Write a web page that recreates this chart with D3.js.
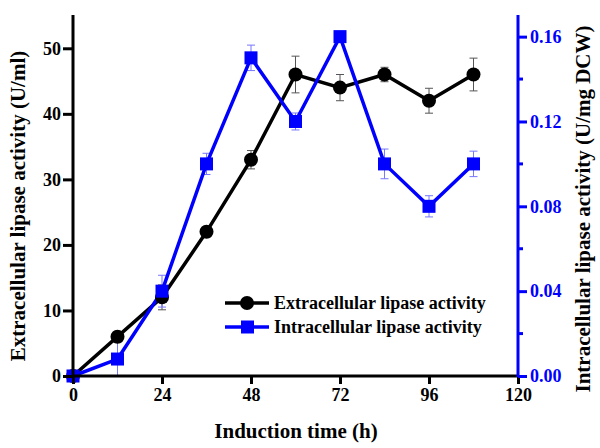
<!DOCTYPE html>
<html><head><meta charset="utf-8">
<script src="https://cdn.jsdelivr.net/npm/d3@7"></script>
<style>body{margin:0;background:#fff}text{font-family:"Liberation Serif","Times New Roman",serif;font-weight:bold}</style>
</head><body><svg id="c" width="600" height="448"></svg>
<script>
const hours = [0, 12, 24, 36, 48, 60, 72, 84, 96, 108];
const extracellular = [0, 6, 12, 22, 33, 46, 44, 46, 42, 46];
const extracellularErr = [0, 0.8, 1.9, 0.8, 1.4, 2.8, 2, 1.1, 1.9, 2.5];
const intracellular = [0, 0.008, 0.04, 0.10, 0.15, 0.12, 0.16, 0.10, 0.08, 0.10];
const intracellularErr = [0, 0.009, 0.0075, 0.005, 0.006, 0.004, 0.001, 0.007, 0.005, 0.006];
const xTicks = [0, 24, 48, 72, 96, 120];
const yLeftTicks = [0, 10, 20, 30, 40, 50];
const yRightTicks = [0, 0.04, 0.08, 0.12, 0.16];
const yRightMinor = [0.02, 0.06, 0.10, 0.14];
const seriesNames = ["Extracellular lipase activity", "Intracellular lipase activity"];

const svg = d3.select("#c");
const L = 73, R = 518, T = 15, B = 376;
const x = d3.scaleLinear().domain([0, 120]).range([L, R]);
const yL = d3.scaleLinear().domain([0, 55.08]).range([B, T]);
const yR = d3.scaleLinear().domain([0, 0.1702]).range([B, T]);
const blue = "#0000ff";

function errBars(vals, errs, y, color) {
  const g = svg.append("g").attr("stroke", color).attr("stroke-width", 1).attr("fill", "none");
  hours.forEach((h, i) => {
    if (!errs[i]) return;
    const cx = x(h), y1 = y(Math.max(0, vals[i] - errs[i])), y2 = y(vals[i] + errs[i]);
    g.append("line").attr("x1", cx).attr("x2", cx).attr("y1", y1).attr("y2", y2);
    g.append("line").attr("x1", cx - 4).attr("x2", cx + 4).attr("y1", y2).attr("y2", y2);
    g.append("line").attr("x1", cx - 4).attr("x2", cx + 4).attr("y1", y1).attr("y2", y1);
  });
}
errBars(extracellular, extracellularErr, yL, "#555");
errBars(intracellular, intracellularErr, yR, "#7777ff");

const lineE = d3.line().x((d, i) => x(hours[i])).y(d => yL(d));
const lineI = d3.line().x((d, i) => x(hours[i])).y(d => yR(d));
svg.append("path").attr("d", lineE(extracellular)).attr("fill", "none").attr("stroke", "#000").attr("stroke-width", 3.5);
svg.append("path").attr("d", lineI(intracellular)).attr("fill", "none").attr("stroke", blue).attr("stroke-width", 3.5);

svg.append("g").selectAll("circle").data(extracellular).join("circle")
  .attr("cx", (d, i) => x(hours[i])).attr("cy", d => yL(d)).attr("r", 7).attr("fill", "#000");
svg.append("g").selectAll("rect").data(intracellular).join("rect")
  .attr("x", (d, i) => x(hours[i]) - 6.5).attr("y", d => yR(d) - 6.5).attr("width", 13).attr("height", 13).attr("fill", blue);

const fs = "18px";
const gx = svg.append("g").attr("transform", `translate(0,${B})`)
  .call(d3.axisBottom(x).tickValues(xTicks).tickSize(8).tickPadding(4));
gx.select(".domain").attr("stroke-width", 3).attr("d", `M${L - 1},0H${R}`);
gx.selectAll(".tick line").attr("stroke-width", 3);
gx.selectAll("text").style("font-size", fs).attr("fill", "#000");

const gl = svg.append("g").attr("transform", `translate(${L},0)`)
  .call(d3.axisLeft(yL).tickValues(yLeftTicks).tickSize(10).tickPadding(2));
gl.select(".domain").attr("stroke-width", 3).attr("d", `M0,${B + 1}V${T}`);
gl.selectAll(".tick line").attr("stroke-width", 3);
gl.selectAll("text").style("font-size", fs).attr("fill", "#000");

const gr = svg.append("g").attr("transform", `translate(${R},0)`)
  .call(d3.axisRight(yR).tickValues(yRightTicks).tickFormat(d3.format(".2f")).tickSize(9).tickPadding(3));
gr.select(".domain").attr("stroke", blue).attr("stroke-width", 3).attr("d", `M0,${B + 1}V${T}`);
gr.selectAll(".tick line").attr("stroke", blue).attr("stroke-width", 3);
gr.selectAll("text").style("font-size", fs).attr("fill", blue);
gr.append("g").selectAll("line").data(yRightMinor).join("line")
  .attr("x1", 0).attr("x2", 5).attr("y1", d => yR(d)).attr("y2", d => yR(d))
  .attr("stroke", blue).attr("stroke-width", 3);

svg.append("text").attr("x", 296).attr("y", 438).attr("text-anchor", "middle")
  .style("font-size", "21px").text("Induction time (h)");
svg.append("text").attr("transform", "translate(25,206) rotate(-90)").attr("text-anchor", "middle")
  .style("font-size", "21px").text("Extracellular lipase activity (U/ml)");
svg.append("text").attr("transform", "translate(590,209) rotate(-90)").attr("text-anchor", "middle")
  .style("font-size", "21px").text("Intracellular lipase activity (U/mg DCW)");

const leg = svg.append("g");
[0, 1].forEach(i => {
  const yy = 303 + i * 24;
  const col = i ? blue : "#000";
  leg.append("line").attr("x1", 225).attr("x2", 269).attr("y1", yy).attr("y2", yy).attr("stroke", col).attr("stroke-width", 3.5);
  if (i) leg.append("rect").attr("x", 241).attr("y", yy - 6.5).attr("width", 13).attr("height", 13).attr("fill", col);
  else leg.append("circle").attr("cx", 247).attr("cy", yy).attr("r", 7).attr("fill", col);
  leg.append("text").attr("x", 274).attr("y", yy + 6).style("font-size", "18px").text(seriesNames[i]);
});
</script></body></html>
